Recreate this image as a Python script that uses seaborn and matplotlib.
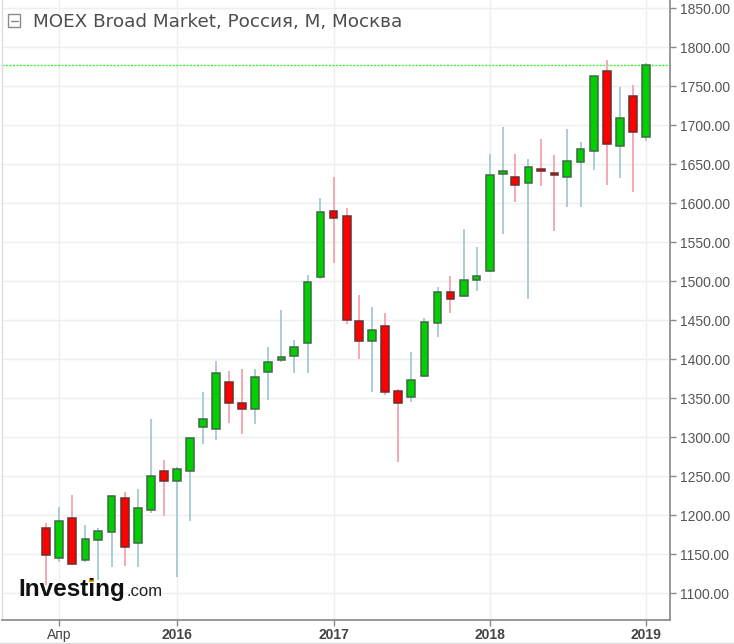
import matplotlib
matplotlib.use("Agg")
import matplotlib.pyplot as plt
import matplotlib.dates as mdates
from matplotlib.lines import Line2D
from matplotlib.patches import Rectangle
import seaborn as sns
import pandas as pd
import numpy as np

# ---- data (monthly candles, Mar 2015 .. Jan 2019) ----
months = pd.date_range("2015-03-01", "2019-01-01", freq="MS")
opens = [1183, 1144.5, 1195.8, 1142.3, 1168, 1177.8, 1221.4, 1164.5, 1206.4, 1256.4,
         1243.6, 1256.8, 1312.4, 1310.6, 1370, 1343, 1336.3, 1383, 1398.3, 1403.8, 1420, 1504.7,
         1589.7, 1583.7, 1448.7, 1423, 1442.3, 1359, 1350.9, 1378.2, 1445.8, 1485.5, 1480.8, 1501.3,
         1512.8, 1637.6, 1633, 1625.3, 1643.2, 1638.5, 1633, 1652.2, 1666.7, 1769.6, 1673, 1737.2,
         1684.2]
highs = [1190, 1210.6, 1225.6, 1187, 1183, 1226, 1230, 1233, 1323, 1270.5,
         1262, 1300, 1358, 1397.8, 1385, 1386.8, 1387, 1415.8, 1462.8, 1424.4, 1507.7, 1606,
         1633, 1593, 1482, 1467, 1458.6, 1361.5, 1409.4, 1453, 1492.7, 1506.8, 1566.3, 1544,
         1662.8, 1697.8, 1662.8, 1656, 1681.7, 1661.5, 1694.9, 1678.6, 1763, 1783.3, 1749, 1751.3,
         1779]
lows = [1110, 1140, 1136, 1140, 1117, 1133.7, 1134.6, 1133.7, 1202.6, 1198.7,
        1120, 1192.7, 1291, 1296, 1318, 1303.8, 1316.7, 1347.4, 1396.5, 1382.4, 1382.4, 1503,
        1523.5, 1445, 1400, 1357.3, 1353.8, 1268.3, 1345.3, 1377, 1427.8, 1459.4, 1479, 1487.6,
        1512, 1560.3, 1601.7, 1477, 1622.2, 1564.5, 1595.3, 1595.3, 1642.3, 1623, 1631.7, 1614.5,
        1680]
closes = [1149, 1192.7, 1137, 1168.8, 1180, 1224.4, 1159.4, 1208.6, 1250.4, 1243.6,
          1258.6, 1298.3, 1322.7, 1381.7, 1343, 1336.3, 1376.5, 1395.8, 1402.6, 1415.8, 1498.7, 1588.5,
          1580.4, 1450, 1423, 1437.2, 1357.7, 1343, 1373, 1447, 1485.5, 1477.3, 1501.3, 1506.4,
          1635.9, 1641.4, 1623, 1645.8, 1640.6, 1635.9, 1654.2, 1668.8, 1762.8, 1675.6, 1708.6, 1690.6,
          1777.3]

title = "MOEX Broad Market, Россия, M, Москва"
y_ticks = list(range(1100, 1851, 50))
x_tick_dates = ["2015-04-01", "2016-01-01", "2017-01-01", "2018-01-01", "2019-01-01"]
x_tick_labels = ["Апр", "2016", "2017", "2018", "2019"]

df = pd.DataFrame({"date": months, "open": opens, "high": highs, "low": lows, "close": closes})
df["up"] = df["close"] >= df["open"]

# ---- style ----
sns.set_style("white")
plt.rcParams["font.family"] = ["DejaVu Sans"]

W, H = 734, 644
fig = plt.figure(figsize=(W / 100, H / 100), dpi=100)
ax = fig.add_axes([2 / W, 24 / H, 668 / W, 620 / H])

GREEN = "#00d000"
RED = "#ff0000"
GREEN_EDGE = "#3f6a44"
RED_EDGE = "#6a2f2f"
GREEN_WICK = "#aacdd8"
RED_WICK = "#f6aab4"

up = df[df["up"]]
dn = df[~df["up"]]

ax.vlines(up["date"], up["low"], up["high"], colors=GREEN_WICK, linewidth=1.4, zorder=2)
ax.vlines(dn["date"], dn["low"], dn["high"], colors=RED_WICK, linewidth=1.4, zorder=2)

bw = 18  # days
ax.bar(up["date"], (up["close"] - up["open"]).clip(lower=1.5), bottom=up["open"], width=bw,
       color=GREEN, edgecolor=GREEN_EDGE, linewidth=1.1, zorder=3)
ax.bar(dn["date"], (dn["open"] - dn["close"]).clip(lower=1.5), bottom=dn["close"], width=bw,
       color=RED, edgecolor=RED_EDGE, linewidth=1.1, zorder=3)

# last price line
ax.axhline(closes[-1], color="#3cf03c", linewidth=1.0, linestyle=(0, (1.5, 1.0)), zorder=1)

ax.set_xlim(pd.Timestamp("2014-11-18"), pd.Timestamp("2019-02-26"))
ax.set_ylim(1065.4, 1860.3)

# ticks
ax.yaxis.tick_right()
ax.set_yticks(y_ticks)
ax.set_yticklabels([f"{v:.2f}" for v in y_ticks])
ax.set_xticks([pd.Timestamp(d) for d in x_tick_dates])
ax.set_xticklabels(x_tick_labels)
ax.tick_params(axis="y", which="both", right=True, left=False, length=4, width=1,
               color="#888888", labelcolor="#555555", labelsize=10, pad=3)
ax.tick_params(axis="x", which="both", bottom=True, length=4, width=1,
               color="#888888", labelcolor="#444444", labelsize=10, pad=2)
for lab in ax.get_yticklabels():
    lab.set_family(["Liberation Sans", "DejaVu Sans"])
for i, lab in enumerate(ax.get_xticklabels()):
    lab.set_family(["Liberation Sans", "DejaVu Sans"])
    if i > 0:
        lab.set_fontweight("bold")

ax.grid(True, color="#eeeeee", linewidth=1.0, zorder=0)
ax.set_axisbelow(True)

ax.spines["top"].set_visible(False)
ax.spines["left"].set_color("#dddddd")
ax.spines["left"].set_linewidth(1.0)
ax.spines["right"].set_color("#888888")
ax.spines["right"].set_linewidth(1.2)
ax.spines["bottom"].set_color("#888888")
ax.spines["bottom"].set_linewidth(1.2)

# title with icon
fig.add_artist(Rectangle((8 / W, 1 - 27 / H), 12 / W, 13 / H, transform=fig.transFigure,
                         fill=False, edgecolor="#8a8a8a", linewidth=1.0))
fig.add_artist(Line2D([10.5 / W, 17.5 / W], [1 - 20.5 / H, 1 - 20.5 / H], transform=fig.transFigure,
                      color="#8a8a8a", linewidth=1.0))
fig.text(33 / W, 1 - 27 / H, title, fontsize=13.2, color="#4d4d4d", va="baseline", ha="left",
         family=["DejaVu Sans"])

# logo
fig.text(18 / W, 1 - 596 / H, "Investing", fontsize=17.5, fontweight="bold", color="#111111",
         va="baseline", ha="left", family=["Liberation Sans", "DejaVu Sans"])
fig.text(126 / W, 1 - 596 / H, ".com", fontsize=12, color="#222222",
         va="baseline", ha="left", family=["Liberation Sans", "DejaVu Sans"])
fig.add_artist(Rectangle((89.2 / W, 1 - 582 / H), 4.5 / W, 4.5 / H, transform=fig.transFigure,
                         facecolor="#f5a300", edgecolor="none"))

# bottom border
fig.add_artist(Line2D([0, 1], [1.5 / H, 1.5 / H], transform=fig.transFigure, color="#dddddd", linewidth=1))

fig.savefig("out.png", dpi=100)
